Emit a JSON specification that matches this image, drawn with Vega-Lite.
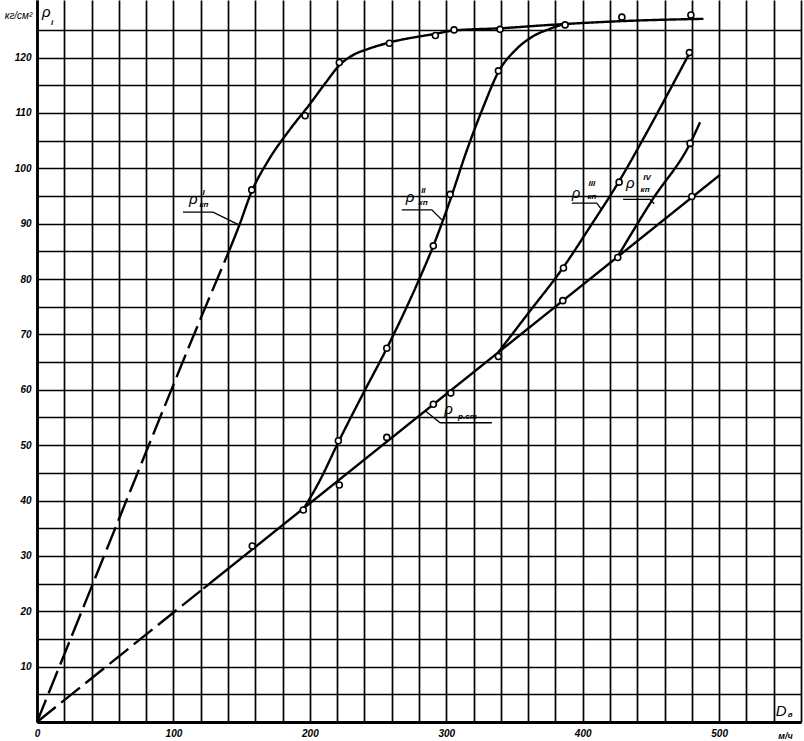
{
  "$schema": "https://vega.github.io/schema/vega-lite/v6.json",
  "width": 764,
  "height": 722,
  "autosize": {"type": "none"},
  "padding": {"left": 37, "top": 0, "right": 3, "bottom": 19},
  "background": "white",
  "config": {"view": {"stroke": null}, "font": "Liberation Sans"},
  "datasets": {
    "curves": [
      {"series": "I", "segment": "extrapolated", "x": 0, "y": 0},
      {"series": "I", "segment": "extrapolated", "x": 40, "y": 24.4},
      {"series": "I", "segment": "extrapolated", "x": 80, "y": 48.8},
      {"series": "I", "segment": "extrapolated", "x": 120, "y": 72.9},
      {"series": "I", "segment": "extrapolated", "x": 141, "y": 85.2},
      {"series": "I", "segment": "measured", "x": 141, "y": 85.2},
      {"series": "I", "segment": "measured", "x": 149, "y": 90.2},
      {"series": "I", "segment": "measured", "x": 156.5, "y": 95.3},
      {"series": "I", "segment": "measured", "x": 170, "y": 101.6},
      {"series": "I", "segment": "measured", "x": 185, "y": 106.9},
      {"series": "I", "segment": "measured", "x": 200, "y": 111.6},
      {"series": "I", "segment": "measured", "x": 212, "y": 115.6},
      {"series": "I", "segment": "measured", "x": 222, "y": 118.7},
      {"series": "I", "segment": "measured", "x": 232, "y": 120.5},
      {"series": "I", "segment": "measured", "x": 242, "y": 121.5},
      {"series": "I", "segment": "measured", "x": 258, "y": 122.7},
      {"series": "I", "segment": "measured", "x": 292, "y": 124.3},
      {"series": "I", "segment": "measured", "x": 306, "y": 124.9},
      {"series": "I", "segment": "measured", "x": 340, "y": 125.3},
      {"series": "I", "segment": "measured", "x": 376, "y": 125.9},
      {"series": "I", "segment": "measured", "x": 430, "y": 126.6},
      {"series": "I", "segment": "measured", "x": 488.5, "y": 127},
      {"series": "II", "segment": "measured", "x": 195.2, "y": 38.4},
      {"series": "II", "segment": "measured", "x": 207.5, "y": 43.7},
      {"series": "II", "segment": "measured", "x": 221, "y": 50.6},
      {"series": "II", "segment": "measured", "x": 239, "y": 59.3},
      {"series": "II", "segment": "measured", "x": 256.4, "y": 67.5},
      {"series": "II", "segment": "measured", "x": 279.5, "y": 79.6},
      {"series": "II", "segment": "measured", "x": 290.5, "y": 86},
      {"series": "II", "segment": "measured", "x": 301.5, "y": 93.3},
      {"series": "II", "segment": "measured", "x": 315, "y": 103.2},
      {"series": "II", "segment": "measured", "x": 327, "y": 111},
      {"series": "II", "segment": "measured", "x": 338.2, "y": 117.4},
      {"series": "II", "segment": "measured", "x": 351.7, "y": 121.6},
      {"series": "II", "segment": "measured", "x": 364, "y": 123.9},
      {"series": "II", "segment": "measured", "x": 376, "y": 125.2},
      {"series": "II", "segment": "measured", "x": 384, "y": 125.9},
      {"series": "р.ст", "segment": "extrapolated", "x": 0, "y": 0},
      {"series": "р.ст", "segment": "extrapolated", "x": 122, "y": 24.1},
      {"series": "р.ст", "segment": "measured", "x": 122, "y": 24.1},
      {"series": "р.ст", "segment": "measured", "x": 500.5, "y": 98.8},
      {"series": "III", "segment": "measured", "x": 338.2, "y": 66.8},
      {"series": "III", "segment": "measured", "x": 360, "y": 73.8},
      {"series": "III", "segment": "measured", "x": 386, "y": 82.2},
      {"series": "III", "segment": "measured", "x": 405, "y": 89.3},
      {"series": "III", "segment": "measured", "x": 427, "y": 97.8},
      {"series": "III", "segment": "measured", "x": 445, "y": 105.6},
      {"series": "III", "segment": "measured", "x": 462, "y": 113.3},
      {"series": "III", "segment": "measured", "x": 478.5, "y": 120.9},
      {"series": "IV", "segment": "measured", "x": 425.7, "y": 84.1},
      {"series": "IV", "segment": "measured", "x": 451, "y": 94.3},
      {"series": "IV", "segment": "measured", "x": 478.7, "y": 104.5},
      {"series": "IV", "segment": "measured", "x": 486, "y": 108.3}
    ],
    "points": [
      {"series": "I", "x": 157.4, "y": 96.1},
      {"series": "I", "x": 196.5, "y": 109.5},
      {"series": "I", "x": 221.6, "y": 119.1},
      {"series": "I", "x": 258.3, "y": 122.6},
      {"series": "I", "x": 292, "y": 124.0},
      {"series": "I", "x": 305.7, "y": 125.0},
      {"series": "I", "x": 339.4, "y": 125.1},
      {"series": "I", "x": 387.1, "y": 125.9},
      {"series": "I", "x": 428.7, "y": 127.3},
      {"series": "I", "x": 479.3, "y": 127.7},
      {"series": "II", "x": 220.9, "y": 50.8},
      {"series": "II", "x": 256.4, "y": 67.5},
      {"series": "II", "x": 290.5, "y": 86.0},
      {"series": "II", "x": 302.8, "y": 95.3},
      {"series": "II", "x": 338.2, "y": 117.6},
      {"series": "р.ст", "x": 157.8, "y": 31.8},
      {"series": "р.ст", "x": 195.2, "y": 38.3},
      {"series": "р.ст", "x": 221.6, "y": 42.8},
      {"series": "р.ст", "x": 256.4, "y": 51.4},
      {"series": "р.ст", "x": 290.5, "y": 57.4},
      {"series": "р.ст", "x": 303.3, "y": 59.4},
      {"series": "р.ст", "x": 338.2, "y": 66.0},
      {"series": "р.ст", "x": 385.4, "y": 76.1},
      {"series": "р.ст", "x": 425.7, "y": 83.9},
      {"series": "р.ст", "x": 480, "y": 94.9},
      {"series": "III", "x": 385.9, "y": 82.0},
      {"series": "III", "x": 426.7, "y": 97.5},
      {"series": "III", "x": 478.2, "y": 120.9},
      {"series": "IV", "x": 478.7, "y": 104.5}
    ],
    "leaders": [
      {"label": "I", "k": 1, "x": 107, "y": 92.1},
      {"label": "I", "k": 2, "x": 129, "y": 92.1},
      {"label": "I", "k": 3, "x": 148, "y": 89.8},
      {"label": "II", "k": 1, "x": 267.4, "y": 92.5},
      {"label": "II", "k": 2, "x": 289.4, "y": 92.5},
      {"label": "II", "k": 3, "x": 296.7, "y": 90.7},
      {"label": "III", "k": 1, "x": 392, "y": 93.7},
      {"label": "III", "k": 2, "x": 410.3, "y": 93.7},
      {"label": "III", "k": 3, "x": 414, "y": 92.5},
      {"label": "IV", "k": 1, "x": 429.6, "y": 94.4},
      {"label": "IV", "k": 2, "x": 449.2, "y": 94.4},
      {"label": "IV", "k": 3, "x": 452.5, "y": 93.6},
      {"label": "р.ст", "k": 1, "x": 284.5, "y": 56.2},
      {"label": "р.ст", "k": 2, "x": 295.5, "y": 54.05},
      {"label": "р.ст", "k": 3, "x": 333.4, "y": 54.05}
    ],
    "labels": [
      {"role": "main", "text": "ρ", "x": 114.6, "y": 94.4},
      {"role": "sup", "text": "I", "x": 122.1, "y": 95.6},
      {"role": "sub", "text": "кп", "x": 122.4, "y": 93.3},
      {"role": "main", "text": "ρ", "x": 273.5, "y": 94.8},
      {"role": "sup", "text": "II", "x": 283.2, "y": 95.9},
      {"role": "sub", "text": "кп", "x": 283, "y": 93.7},
      {"role": "main", "text": "ρ", "x": 395.2, "y": 95.6},
      {"role": "sup", "text": "III", "x": 406.7, "y": 97.2},
      {"role": "sub", "text": "кп", "x": 406.7, "y": 94.8},
      {"role": "main", "text": "ρ", "x": 434.8, "y": 97.3},
      {"role": "sup", "text": "IV", "x": 447.2, "y": 98.2},
      {"role": "sub", "text": "кп", "x": 445.7, "y": 96.0},
      {"role": "main", "text": "ρ", "x": 301.7, "y": 56.5},
      {"role": "sub", "text": "р.ст", "x": 315.5, "y": 55.0},
      {"role": "main", "text": "ρ", "x": 6.8, "y": 128.2},
      {"role": "sub", "text": "i", "x": 11.0, "y": 126.3},
      {"role": "main", "text": "D", "x": 545.5, "y": 2.0},
      {"role": "sub", "text": "в", "x": 552, "y": 1.2}
    ]
  },
  "encoding": {
    "x": {
      "field": "x", "type": "quantitative",
      "scale": {"domain": [0, 560], "nice": false, "zero": false},
      "axis": {
        "title": "м/ч",
        "values": [0, 20, 40, 60, 80, 100, 120, 140, 160, 180, 200, 220, 240, 260, 280, 300, 320, 340, 360, 380, 400, 420, 440, 460, 480, 500, 520, 540, 560],
        "labelExpr": "datum.value % 100 === 0 && datum.value < 550 ? datum.label : ''",
        "grid": true, "gridColor": "#000", "gridWidth": 1.7, "gridOpacity": 1,
        "ticks": false, "domain": true, "domainColor": "black", "domainWidth": 2.8,
        "labelFont": "Liberation Sans", "labelFontStyle": "italic", "labelFontWeight": "bold", "labelFontSize": 10, "labelColor": "black", "labelPadding": 6, "labelFlush": false,
        "titleFont": "Liberation Sans", "titleFontStyle": "italic", "titleFontWeight": "bold", "titleFontSize": 9, "titleColor": "black",
        "titleX": 748, "titleY": 13, "titleAlign": "center", "titleBaseline": "middle"
      }
    },
    "y": {
      "field": "y", "type": "quantitative",
      "scale": {"domain": [0, 130.4], "nice": false, "zero": false},
      "axis": {
        "title": "кг/см²",
        "values": [0, 5, 10, 15, 20, 25, 30, 35, 40, 45, 50, 55, 60, 65, 70, 75, 80, 85, 90, 95, 100, 105, 110, 115, 120, 125],
        "labelExpr": "datum.value % 10 === 0 && datum.value > 0 ? datum.label : ''",
        "grid": true, "gridColor": "#000", "gridWidth": 1.7, "gridOpacity": 1,
        "ticks": false, "domain": true, "domainColor": "black", "domainWidth": 2.8,
        "labelFont": "Liberation Sans", "labelFontStyle": "italic", "labelFontWeight": "bold", "labelFontSize": 10, "labelColor": "black", "labelPadding": 6,
        "titleFont": "Liberation Sans", "titleFontStyle": "italic", "titleFontWeight": "normal", "titleFontSize": 10, "titleColor": "black",
        "titleAngle": 0, "titleX": -19, "titleY": 15, "titleAlign": "center", "titleBaseline": "middle"
      }
    }
  },
  "layer": [
    {
      "data": {"name": "curves"},
      "mark": {"type": "line", "interpolate": "monotone", "color": "black", "strokeWidth": 2.4, "strokeCap": "butt"},
      "encoding": {
        "detail": {"field": "series", "type": "nominal"},
        "strokeDash": {"field": "segment", "type": "nominal", "scale": {"domain": ["measured", "extrapolated"], "range": [[1, 0], [24, 7]]}, "legend": null}
      }
    },
    {
      "data": {"name": "leaders"},
      "mark": {"type": "line", "color": "black", "strokeWidth": 1.3},
      "encoding": {
        "detail": {"field": "label", "type": "nominal"},
        "order": {"field": "k", "type": "quantitative"}
      }
    },
    {
      "data": {"name": "points"},
      "mark": {"type": "point", "shape": "circle", "size": 36, "filled": true, "fill": "white", "stroke": "black", "strokeWidth": 1.6, "opacity": 1},
      "encoding": {}
    },
    {
      "data": {"name": "labels"},
      "transform": [{"filter": "datum.role === 'main'"}],
      "mark": {"type": "text", "font": "Liberation Sans", "fontStyle": "italic", "fontSize": 15, "color": "black", "align": "center", "baseline": "middle"},
      "encoding": {
        "text": {"field": "text", "type": "nominal"}
      }
    },
    {
      "data": {"name": "labels"},
      "transform": [{"filter": "datum.role !== 'main'"}],
      "mark": {"type": "text", "font": "Liberation Sans", "fontStyle": "italic", "fontWeight": "bold", "fontSize": 8, "color": "black", "align": "center", "baseline": "middle"},
      "encoding": {
        "text": {"field": "text", "type": "nominal"}
      }
    }
  ]
}
